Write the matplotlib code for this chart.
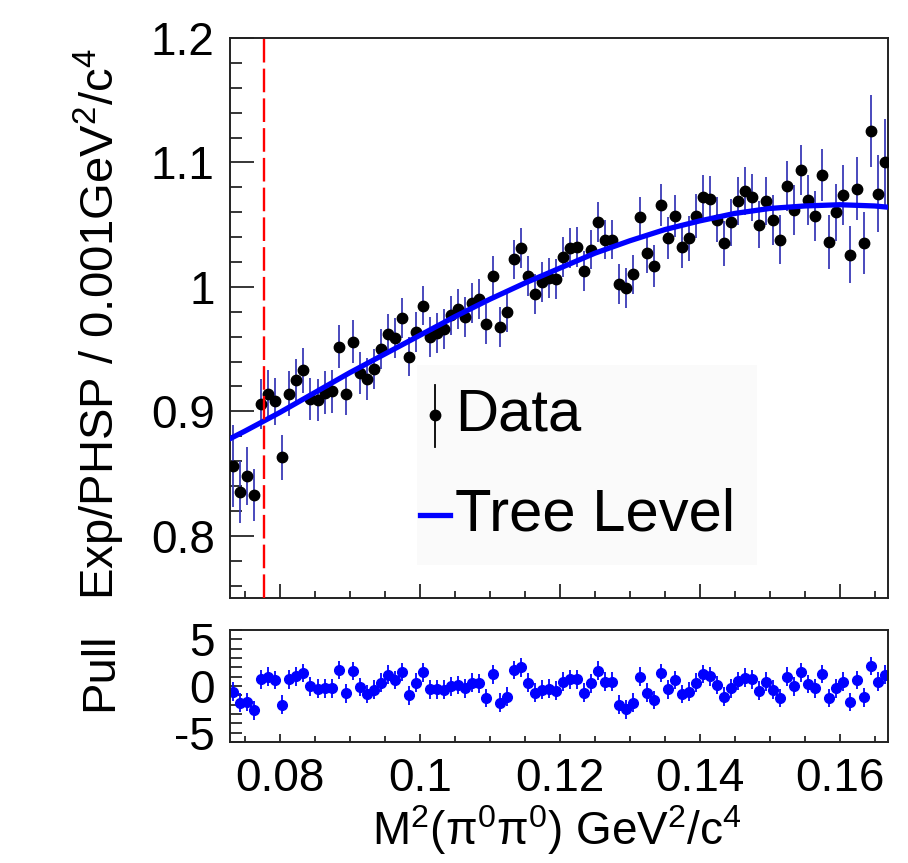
import matplotlib
matplotlib.use('Agg')
import matplotlib.pyplot as plt
import numpy as np
from matplotlib.ticker import MultipleLocator, FuncFormatter
from matplotlib.patches import Rectangle

plt.rcParams['font.family'] = ['Liberation Sans', 'DejaVu Sans']
plt.rcParams['mathtext.fontset'] = 'custom'
plt.rcParams['mathtext.rm'] = 'Liberation Sans'
plt.rcParams['mathtext.it'] = 'Liberation Sans:italic'
plt.rcParams['mathtext.bf'] = 'Liberation Sans:bold'

# binning of M^2(pi0 pi0), 0.001 GeV^2/c^4 per bin
binLow = 0.0729
binHigh = 0.1669
binWidth = 0.001
nBins = 94

# Exp/PHSP ratio per bin
ratio = [0.856, 0.835, 0.848, 0.833, 0.906, 0.914, 0.908, 0.863, 0.914, 0.925,
         0.933, 0.910, 0.909, 0.915, 0.916, 0.952, 0.914, 0.956, 0.931, 0.926,
         0.934, 0.950, 0.962, 0.959, 0.975, 0.944, 0.964, 0.985, 0.960, 0.963,
         0.966, 0.977, 0.982, 0.976, 0.987, 0.990, 0.970, 1.009, 0.968, 0.980,
         1.022, 1.031, 1.009, 0.994, 1.004, 1.007, 1.006, 1.024, 1.031, 1.032,
         1.013, 1.030, 1.052, 1.038, 1.038, 1.002, 0.999, 1.010, 1.056, 1.027,
         1.017, 1.066, 1.039, 1.057, 1.032, 1.039, 1.057, 1.072, 1.071, 1.054,
         1.035, 1.052, 1.069, 1.077, 1.072, 1.050, 1.069, 1.054, 1.038, 1.081,
         1.062, 1.094, 1.070, 1.057, 1.090, 1.036, 1.060, 1.074, 1.026, 1.079,
         1.035, 1.125, 1.075, 1.100]

ratioErr = [0.033, 0.025, 0.023, 0.021, 0.020, 0.019, 0.019, 0.018, 0.018, 0.017,
            0.018, 0.017, 0.017, 0.017, 0.017, 0.017, 0.017, 0.017, 0.017, 0.017,
            0.016, 0.016, 0.016, 0.016, 0.016, 0.016, 0.016, 0.016, 0.016, 0.016,
            0.016, 0.016, 0.016, 0.016, 0.016, 0.016, 0.016, 0.016, 0.016, 0.016,
            0.016, 0.016, 0.016, 0.016, 0.016, 0.016, 0.016, 0.016, 0.016, 0.016,
            0.016, 0.016, 0.016, 0.016, 0.016, 0.016, 0.016, 0.016, 0.016, 0.016,
            0.017, 0.017, 0.017, 0.017, 0.017, 0.018, 0.018, 0.018, 0.018, 0.018,
            0.018, 0.019, 0.019, 0.019, 0.019, 0.019, 0.019, 0.020, 0.020, 0.020,
            0.020, 0.020, 0.020, 0.020, 0.021, 0.022, 0.023, 0.024, 0.023, 0.025,
            0.025, 0.029, 0.031, 0.035]

# pull of each bin w.r.t. the tree level curve
pulls = [-0.6, -1.8, -1.7, -2.6, 0.7, 1.0, 0.65, -2.0, 0.7, 1.05,
         1.4, -0.05, -0.3, -0.25, -0.25, 1.7, -0.8, 1.6, -0.1, -0.85,
         -0.4, 0.35, 1.2, 0.65, 1.5, -1.0, 0.35, 1.45, -0.35, -0.35,
         -0.4, -0.05, 0.1, -0.25, 0.35, 0.3, -1.3, 1.25, -1.8, -1.15,
         1.7, 2.0, 0.35, -0.7, -0.4, -0.3, -0.5, 0.45, 0.7, 0.7,
         -0.7, 0.3, 1.65, 0.45, 0.45, -2.0, -2.5, -1.8, 1.0, -0.7,
         -1.5, 1.4, -0.35, 0.65, -0.85, -0.6, 0.35, 1.3, 1.05, 0.1,
         -1.15, -0.25, 0.55, 0.9, 0.7, -0.5, 0.45, -0.4, -1.3, 1.0,
         -0.05, 1.45, 0.2, -0.25, 1.3, -1.3, -0.25, 0.45, -1.7, 0.65,
         -1.2, 2.15, 0.45, 1.2]
pullErr = 1.0

# tree level amplitude curve
curveX = [0.0729, 0.075, 0.080, 0.085, 0.090, 0.095, 0.100, 0.105, 0.110, 0.115,
          0.120, 0.125, 0.130, 0.135, 0.140, 0.145, 0.150, 0.155, 0.160, 0.165, 0.1669]
curveY = [0.878, 0.884, 0.899, 0.915, 0.931, 0.946, 0.961, 0.976, 0.990, 1.003,
          1.015, 1.027, 1.037, 1.046, 1.053, 1.059, 1.063, 1.065, 1.066, 1.065, 1.064]

cutLine = 0.0777

binCenters = binLow + binWidth * (np.arange(nBins) + 0.5)

fig = plt.figure(figsize=(9.08, 8.63), dpi=100)
ax = fig.add_axes([0.2533, 0.3071, 0.7247, 0.6489])
ax2 = fig.add_axes([0.2533, 0.1402, 0.7247, 0.1298])

fmt = FuncFormatter(lambda v, p: '%g' % round(v, 4))

# upper pad: ratio with tree level curve
ax.errorbar(binCenters, ratio, yerr=ratioErr, fmt='none', ecolor='#3a3ab8',
            elinewidth=1.3, capsize=0, zorder=2)
ax.plot(binCenters, ratio, 'o', color='black', markersize=7.5, zorder=3)
ax.plot(curveX, curveY, '-', color='#0000ff', linewidth=3.8, zorder=4)
ax.axvline(cutLine, color='#ff0000', linewidth=1.7, dashes=(10, 2.6), zorder=5)

ax.set_xlim(binLow, binHigh)
ax.set_ylim(0.75, 1.2)
ax.xaxis.set_major_locator(MultipleLocator(0.02))
ax.xaxis.set_minor_locator(MultipleLocator(0.005))
ax.yaxis.set_major_locator(MultipleLocator(0.1))
ax.yaxis.set_minor_locator(MultipleLocator(0.02))
ax.yaxis.set_major_formatter(fmt)
ax.tick_params(axis='x', which='both', direction='in', labelbottom=False, width=1.1)
ax.tick_params(axis='x', which='major', length=10)
ax.tick_params(axis='x', which='minor', length=5)
ax.tick_params(axis='y', which='both', direction='in', width=1.1, labelsize=33, pad=11)
ax.tick_params(axis='y', which='major', length=17)
ax.tick_params(axis='y', which='minor', length=8.6)
ax.set_ylabel('Exp/PHSP / 0.001GeV$^{2}$/c$^{4}$', fontsize=34, va='center', ha='center')
ax.yaxis.set_label_coords(-0.198, 0.49)

# legend
ax.add_patch(Rectangle((0.284, 0.059), 0.517, 0.357, transform=ax.transAxes,
                       facecolor='#fafafa', edgecolor='none', zorder=1))
ax.plot([0.3116, 0.3116], [0.270, 0.380], color='black', linewidth=1.3,
        transform=ax.transAxes, zorder=6)
ax.plot([0.3116], [0.327], 'o', color='black', markersize=7.5,
        transform=ax.transAxes, zorder=6)
ax.text(0.342, 0.327, 'Data', fontsize=43, va='center', ha='left',
        transform=ax.transAxes, zorder=6)
ax.plot([0.289, 0.334], [0.148, 0.148], color='#0000ff', linewidth=3.8,
        transform=ax.transAxes, zorder=6)
ax.text(0.342, 0.148, 'Tree Level', fontsize=43, va='center', ha='left',
        transform=ax.transAxes, zorder=6)

# lower pad: pulls
ax2.errorbar(binCenters, pulls, yerr=pullErr, fmt='o', color='#0000ff',
             ecolor='#0000ff', markersize=7, elinewidth=1.3, capsize=0)
ax2.set_xlim(binLow, binHigh)
ax2.set_ylim(-6, 6)
ax2.xaxis.set_major_locator(MultipleLocator(0.02))
ax2.xaxis.set_minor_locator(MultipleLocator(0.005))
ax2.yaxis.set_major_locator(MultipleLocator(5))
ax2.yaxis.set_minor_locator(MultipleLocator(1))
ax2.xaxis.set_major_formatter(fmt)
ax2.yaxis.set_major_formatter(fmt)
ax2.tick_params(axis='both', which='both', direction='in', width=1.1, labelsize=33)
ax2.tick_params(axis='x', which='major', length=6, pad=11)
ax2.tick_params(axis='x', which='minor', length=4)
ax2.tick_params(axis='y', which='both', length=8.6, pad=11)
ax2.set_ylabel('Pull', fontsize=34, va='center', ha='center')
ax2.yaxis.set_label_coords(-0.198, 0.625)
ax2.set_xlabel('M$^{2}$(π$^{0}$π$^{0}$) GeV$^{2}$/c$^{4}$', fontsize=33,
               va='center', ha='center')
ax2.xaxis.set_label_coords(0.497, -0.79)

for a in (ax, ax2):
    for s in a.spines.values():
        s.set_linewidth(1.4)
        s.set_color('#222222')

fig.savefig('out.png', dpi=100, facecolor='white')
